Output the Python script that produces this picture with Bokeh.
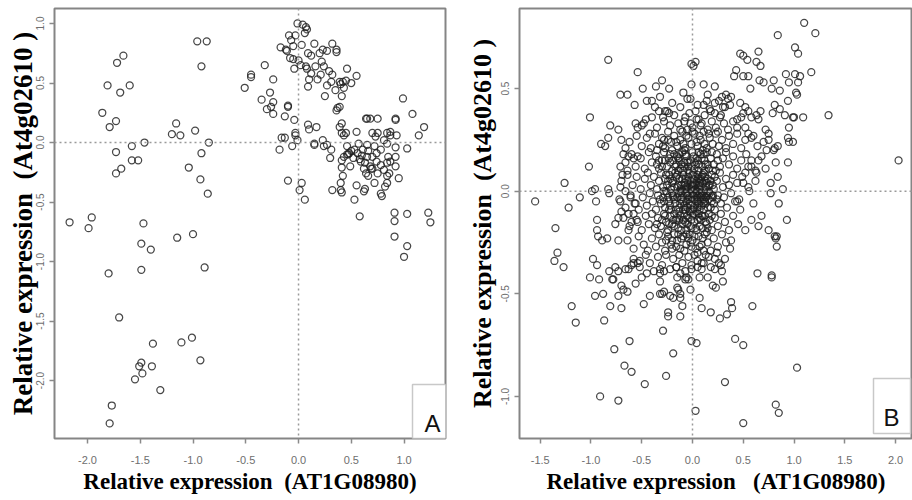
from math import pi
from bokeh.plotting import figure
from bokeh.models import Range1d, Span, FixedTicker, NumeralTickFormatter, Label, BoxAnnotation
from bokeh.layouts import row
from bokeh.embed import file_html
from bokeh.resources import INLINE

# ---------------- data ----------------
a_ticks_x = [-2.0, -1.5, -1.0, -0.5, 0.0, 0.5, 1.0]
a_ticks_y = [-2.0, -1.5, -1.0, -0.5, 0.0, 0.5, 1.0]
b_ticks_x = [-1.5, -1.0, -0.5, 0.0, 0.5, 1.0, 1.5, 2.0]
b_ticks_y = [-1.0, -0.5, 0.0, 0.5]

x_title = "Relative expression"
x_gene = "(AT1G08980)"
y_gene = "(At4g02610 )"
panel_tags = ["A", "B"]

# Panel A: sparse left group
a_left = [(-2.17,-0.67),(-1.99,-0.72),(-1.96,-0.63),(-1.86,0.25),(-1.81,0.48),(-1.79,0.13),(-1.73,0.18),
          (-1.72,0.67),(-1.69,0.42),(-1.66,0.73),(-1.60,0.48),(-1.73,-0.08),(-1.73,-0.26),(-1.68,-0.22),
          (-1.58,-0.03),(-1.58,-0.15),(-1.52,-0.15),(-1.46,0.00),(-1.47,-0.68),(-1.49,-0.85),(-1.40,-0.90),
          (-1.20,0.07),(-1.16,0.16),(-1.12,0.06),(-1.15,-0.80),(-1.04,-0.21),(-1.00,-0.77),(-0.98,0.10),
          (-0.96,0.85),(-0.87,0.85),(-0.92,0.64),(-0.92,-0.09),(-0.93,-0.31),(-0.86,-0.43),(-0.85,0.00),
          (-1.80,-1.10),(-1.49,-1.07),(-0.89,-1.05),(-1.70,-1.47),(-1.38,-1.69),(-1.11,-1.68),(-1.01,-1.64),
          (-0.93,-1.83),(-1.49,-1.85),(-1.51,-1.88),(-1.39,-1.88),(-1.48,-1.94),(-1.55,-1.99),(-1.31,-2.08),
          (-1.77,-2.21),(-1.79,-2.36)]
# Panel A: upper cluster
a_upper = [(-0.51,0.46),(-0.45,0.57),(-0.45,0.55),(-0.32,0.65),(-0.35,0.36),(-0.27,0.42),(-0.30,0.28),(-0.24,0.53),
           (-0.24,0.34),(-0.26,0.30),(-0.24,0.24),(-0.17,0.80),(-0.12,0.78),(-0.11,0.77),(-0.09,0.90),(-0.07,0.86),
           (-0.05,0.81),(-0.08,0.71),(-0.05,0.70),(-0.04,0.62),(-0.03,0.90),(-0.01,1.00),(0.00,0.69),(0.02,0.65),
           (0.03,0.82),(0.04,0.99),(0.06,0.92),(0.07,0.97),(0.08,0.95),(0.07,0.64),(0.08,0.62),(0.09,0.75),
           (0.12,0.73),(0.09,0.47),(0.10,0.53),(0.12,0.58),(0.15,0.83),(0.16,0.64),(0.18,0.53),(0.20,0.75),
           (0.21,0.57),(0.22,0.68),(0.23,0.78),(0.24,0.64),(0.25,0.39),(0.27,0.77),(0.27,0.48),(0.29,0.60),
           (0.32,0.83),(0.32,0.57),(0.31,0.51),(0.35,0.44),(0.36,0.78),(0.36,0.76),(0.36,0.27),(0.37,0.29),
           (0.39,0.51),(0.40,0.49),(0.42,0.51),(0.41,0.39),(0.43,0.46),(0.46,0.62),(0.45,0.52),(0.50,0.50),
           (0.55,0.56),(0.39,0.30)]
# Panel A: lower-right cluster
a_right = [(-0.18,-0.06),(-0.16,0.04),(-0.13,0.04),(-0.13,0.22),(-0.10,0.31),(-0.10,0.30),(-0.06,-0.03),(-0.04,0.19),
           (-0.03,0.08),(-0.03,0.06),(-0.01,0.02),(-0.10,-0.32),(0.01,-0.40),(0.03,-0.34),(0.06,-0.48),(0.09,0.15),
           (0.10,0.11),(0.17,0.13),(0.15,-0.01),(0.15,-0.02),(0.23,0.02),(0.24,-0.03),(0.27,-0.02),(0.31,-0.06),
           (0.30,-0.13),(0.32,-0.40),(0.39,0.13),(0.41,0.16),(0.41,0.08),(0.43,0.06),(0.45,0.08),(0.41,-0.15),
           (0.43,-0.12),(0.41,-0.21),(0.42,-0.28),(0.40,-0.34),(0.40,-0.40),(0.41,-0.42),(0.46,-0.03),(0.48,-0.09),
           (0.50,-0.07),(0.46,-0.10),(0.53,-0.48),(0.55,0.09),(0.57,-0.01),(0.58,-0.62),(0.58,-0.14),(0.59,-0.16),
           (0.61,-0.06),(0.62,-0.41),(0.63,-0.39),(0.64,0.20),(0.65,0.20),(0.68,0.20),(0.70,0.08),(0.65,-0.02),
           (0.66,-0.07),(0.68,-0.20),(0.70,-0.22),(0.69,-0.22),(0.72,-0.03),(0.73,0.05),(0.74,-0.09),(0.75,0.20),
           (0.75,0.08),(0.74,-0.16),(0.75,-0.26),(0.72,-0.34),(0.78,-0.06),(0.78,-0.19),(0.78,-0.43),(0.79,-0.45),
           (0.81,0.02),(0.82,-0.37),(0.84,-0.34),(0.84,0.08),(0.84,-0.01),(0.85,-0.12),(0.86,-0.26),(0.84,-0.28),
           (0.84,-0.17),(0.87,0.06),(0.87,-0.16),(0.87,0.09),(0.92,0.19),(0.92,0.20),(0.92,-0.04),(0.92,-0.12),
           (0.92,-0.20),(0.95,-0.30),(0.93,0.06),(0.99,0.37),(1.03,-0.05),(1.08,0.24),(1.14,0.06),(1.19,0.13),
           (0.91,-0.59),(0.91,-0.66),(1.03,-0.60),(1.23,-0.59),(1.25,-0.67),(0.91,-0.79),(1.03,-0.87),(1.00,-0.96),
           (0.53,-0.06),(0.65,-0.12),(0.63,-0.17),(0.70,-0.12),(0.64,-0.26),(0.81,-0.23),(0.47,-0.10),(0.52,-0.13),
           (0.56,-0.09),(0.60,-0.11),(0.62,-0.22),(0.66,-0.28),(0.55,-0.36),(0.49,-0.20)]

# Panel B: outer points (upper half)
b_upper = [(1.10,0.82),(1.21,0.77),(0.84,0.76),(1.01,0.70),(1.04,0.67),(0.65,0.68),(0.47,0.67),(0.50,0.66),
           (0.54,0.64),(0.63,0.63),(0.67,0.61),(1.17,0.58),(1.06,0.56),(1.04,0.53),(1.01,0.57),(0.92,0.57),
           (0.95,0.53),(0.43,0.59),(0.41,0.56),(0.50,0.56),(0.55,0.56),(0.57,0.50),(0.66,0.54),(0.70,0.53),
           (0.80,0.54),(0.78,0.50),(0.86,0.49),(1.34,0.37),(1.09,0.36),(1.02,0.48),(1.03,0.47),(0.94,0.44),
           (0.99,0.36),(1.00,0.36),(0.91,0.37),(0.81,0.42),(0.86,0.40),(0.79,0.38),(0.95,0.31),(0.94,0.26),
           (0.95,0.24),(0.99,0.24),(0.94,0.14),(0.84,0.22),(0.81,0.21),(0.80,0.20),(0.82,0.14),(0.84,0.07),
           (0.77,0.04),(0.89,0.01),(0.77,-0.01),(0.85,-0.06),(0.93,-0.14),(0.82,-0.23),(0.81,-0.22),(0.75,-0.19),
           (0.68,-0.12),(0.65,-0.17),(0.58,-0.14),(0.52,-0.19),(0.60,-0.06),(0.56,0.00),(0.44,-0.05),(0.46,-0.04),
           (0.50,0.04),(0.52,0.09),(0.55,0.12),(0.63,0.09),(0.62,0.10),(0.58,0.15),(0.68,0.17),(0.73,0.20),
           (0.75,0.25),(0.75,0.28),(0.72,0.30),(0.65,0.35),(0.63,0.37),(0.67,0.39),(0.58,0.36),(0.55,0.39),
           (0.52,0.41),(0.50,0.38),(0.47,0.43),(0.44,0.35),(0.52,0.31),(0.55,0.28),(0.58,0.26),(2.03,0.15),
           (0.03,0.63),(0.01,0.61),(-0.01,0.62),(-0.01,0.52),(0.11,0.52),(0.15,0.47),(0.22,0.51),(-0.09,0.48),
           (-0.05,0.45),(0.26,0.44),(0.29,0.46),(0.33,0.47),(0.35,0.45),(0.37,0.42),(0.32,0.41),(0.11,0.42),
           (0.17,0.40),(0.22,0.38),(0.28,0.37),(0.03,0.39),(0.06,0.35),(-0.07,0.36),(-0.14,0.33),(-0.30,0.54),
           (-0.23,0.50),(-0.36,0.51),(-0.45,0.44),(-0.54,0.58),(-0.49,0.50),(-0.71,0.47),(-0.64,0.47),(-0.57,0.42),
           (-0.37,0.41),(-0.33,0.39),(-0.27,0.39),(-0.23,0.38),(-0.29,0.36),(-0.83,0.64),(-1.01,0.36),(-0.90,0.23),
           (-0.86,0.22),(-0.83,0.26),(-0.81,0.32),(-1.02,0.12),(-1.26,0.04),(-1.55,-0.05),(-1.22,-0.08),(-1.11,-0.03),
           (-0.99,0.00),(-0.96,0.01),(-0.95,-0.05),(-0.83,0.01),(-0.82,-0.01),(-1.35,-0.18),(-0.94,-0.14),(-0.73,0.30),
           (-0.70,0.25),(-0.66,0.21),(-0.68,0.18),(-0.63,0.17),(-0.56,0.33),(-0.54,0.31),(-0.50,0.32),(-0.46,0.35),
           (-0.42,0.28),(-0.71,0.12),(-0.69,0.08),(-0.64,0.10),(-0.58,0.16),(-0.54,0.17),(-0.71,0.02),(-0.66,0.00),
           (-0.61,-0.03),(-0.56,-0.06),(-0.71,-0.05),(-0.70,-0.10),(-0.63,-0.11),(-0.73,-0.13),(-0.60,-0.15),(-0.55,-0.14),
           (-0.94,-0.19),(-0.93,-0.22),(-0.89,-0.24),(-0.84,-0.23),(-0.76,-0.16),(-0.73,-0.24),(-0.63,-0.19)]
# Panel B: outer points (lower half)
b_lower = [(-1.36,-0.34),(-1.33,-0.30),(-1.27,-0.37),(-1.19,-0.56),(-1.15,-0.64),(-1.01,-0.42),(-0.98,-0.33),(-0.94,-0.36),
           (-0.92,-0.43),(-0.96,-0.51),(-0.88,-0.50),(-0.87,-0.63),(-0.82,-0.39),(-0.79,-0.43),(-0.78,-0.43),(-0.81,-0.56),
           (-0.76,-0.37),(-0.73,-0.39),(-0.73,-0.51),(-0.70,-0.46),(-0.68,-0.48),(-0.64,-0.49),(-0.70,-0.57),(-0.66,-0.38),
           (-0.63,-0.38),(-0.60,-0.36),(-0.58,-0.35),(-0.54,-0.35),(-0.52,-0.34),(-0.56,-0.45),(-0.45,-0.40),(-0.50,-0.42),
           (-0.48,-0.55),(-0.42,-0.51),(-0.32,-0.44),(-0.32,-0.40),(-0.32,-0.38),(-0.32,-0.50),(-0.30,-0.50),(-0.28,-0.49),
           (-0.24,-0.59),(-0.24,-0.61),(-0.22,-0.51),(-0.19,-0.52),(-0.15,-0.47),(-0.14,-0.48),(-0.12,-0.50),(-0.12,-0.52),
           (-0.10,-0.56),(-0.12,-0.61),(-0.16,-0.37),(-0.15,-0.42),(-0.07,-0.43),(-0.06,-0.42),(-0.04,-0.43),(-0.02,-0.48),
           (-0.01,-0.38),(-0.29,-0.68),(-0.19,-0.79),(-0.62,-0.73),(-0.77,-0.77),(-0.67,-0.85),(-0.60,-0.88),(-0.47,-0.94),
           (-0.26,-0.90),(-0.91,-1.00),(-0.73,-1.02),(-0.01,-0.73),(0.04,-0.74),(0.07,-0.52),(0.09,-0.57),(0.18,-0.59),
           (0.27,-0.62),(0.34,-0.60),(0.38,-0.54),(0.39,-0.57),(0.59,-0.56),(0.64,-0.40),(0.78,-0.41),(0.78,-0.42),
           (0.42,-0.72),(0.50,-0.75),(1.03,-0.86),(0.32,-0.93),(0.03,-1.07),(0.82,-1.04),(0.85,-1.08),(0.50,-1.13),
           (0.07,-0.42),(0.15,-0.42),(0.20,-0.46),(0.23,-0.47),(0.30,-0.44),(0.22,-0.38),(0.28,-0.36),(0.29,-0.39),
           (0.16,-0.32),(0.22,-0.33),(0.26,-0.35),(0.32,-0.33),(0.11,-0.35),(0.05,-0.37),(0.09,-0.35),(0.38,-0.24),
           (0.83,-0.22),(0.83,-0.27)]
# Panel B: dense core, read band by band
b_core = [
    (-0.40,0.44),(-0.32,0.46),(-0.20,0.43),(-0.12,0.41),(-0.02,0.45),(0.05,0.42),(0.14,0.44),(0.30,0.41),(0.38,0.46),(0.22,0.43),
    (-0.48,0.33),(-0.40,0.36),(-0.35,0.31),(-0.28,0.34),(-0.22,0.32),(-0.18,0.37),(-0.12,0.30),(-0.08,0.34),(-0.03,0.38),(0.00,0.31),
    (0.04,0.35),(0.08,0.32),(0.12,0.37),(0.15,0.30),(0.19,0.34),(0.23,0.31),(0.27,0.36),(0.31,0.33),(0.35,0.30),(0.40,0.34),
    (0.44,0.31),(0.48,0.36),(-0.25,0.39),(0.18,0.39),(-0.05,0.30),
    (-0.62,0.24),(-0.55,0.27),(-0.50,0.22),(-0.45,0.26),(-0.41,0.21),(-0.37,0.28),(-0.33,0.23),(-0.30,0.26),(-0.27,0.21),(-0.24,0.29),
    (-0.21,0.24),(-0.18,0.27),(-0.15,0.22),(-0.12,0.25),(-0.10,0.29),(-0.07,0.21),(-0.04,0.26),(-0.01,0.23),(0.02,0.28),(0.05,0.22),
    (0.08,0.25),(0.11,0.29),(0.14,0.21),(0.17,0.26),(0.20,0.23),(0.23,0.28),(0.26,0.22),(0.29,0.25),(0.33,0.21),(0.36,0.27),
    (0.40,0.23),(0.44,0.28),(0.48,0.21),(0.52,0.25),(0.60,0.27),(0.64,0.22),(0.70,0.24),(-0.20,0.20),(0.00,0.29),(0.10,0.20),
    (-0.35,0.20),(0.25,0.29),(-0.09,0.23),(0.07,0.27),(-0.28,0.25),
    (-0.66,0.14),(-0.60,0.18),(-0.56,0.12),(-0.51,0.16),(-0.47,0.11),(-0.43,0.19),(-0.40,0.14),(-0.36,0.17),(-0.33,0.11),(-0.30,0.15),
    (-0.28,0.19),(-0.25,0.12),(-0.23,0.16),(-0.20,0.10),(-0.18,0.18),(-0.16,0.13),(-0.14,0.16),(-0.12,0.11),(-0.10,0.19),(-0.08,0.14),
    (-0.06,0.17),(-0.04,0.12),(-0.02,0.15),(0.00,0.19),(0.02,0.11),(0.04,0.16),(0.06,0.13),(0.08,0.18),(0.10,0.12),(0.12,0.15),
    (0.14,0.19),(0.16,0.11),(0.18,0.16),(0.21,0.13),(0.24,0.18),(0.27,0.12),(0.30,0.16),(0.33,0.19),(0.36,0.13),(0.40,0.17),
    (0.44,0.11),(0.48,0.15),(0.53,0.18),(0.58,0.12),(0.65,0.15),(0.72,0.11),(-0.22,0.14),(-0.15,0.17),(-0.05,0.14),(0.05,0.15),
    (-0.11,0.13),(0.01,0.17),(0.09,0.16),(-0.19,0.15),(-0.27,0.15),(0.13,0.13),(-0.09,0.10),(0.20,0.10),(0.25,0.15),(-0.35,0.13),
    (-0.01,0.12),(-0.07,0.18),(0.11,0.18),(0.03,0.13),(-0.13,0.18),
    (-0.70,0.05),(-0.64,0.08),(-0.59,0.03),(-0.55,0.07),(-0.51,0.01),(-0.47,0.06),(-0.44,0.09),(-0.41,0.03),(-0.38,0.07),(-0.35,0.01),
    (-0.33,0.05),(-0.31,0.09),(-0.29,0.02),(-0.27,0.06),(-0.25,0.03),(-0.23,0.08),(-0.21,0.01),(-0.19,0.05),(-0.17,0.09),(-0.15,0.02),
    (-0.13,0.06),(-0.11,0.03),(-0.09,0.08),(-0.07,0.01),(-0.05,0.05),(-0.03,0.09),(-0.01,0.02),(0.01,0.06),(0.03,0.03),(0.05,0.08),
    (0.07,0.01),(0.09,0.05),(0.11,0.09),(0.13,0.02),(0.15,0.06),(0.17,0.03),(0.19,0.08),(0.21,0.01),(0.24,0.05),(0.27,0.09),
    (0.30,0.02),(0.33,0.06),(0.36,0.03),(0.40,0.08),(0.44,0.04),(0.49,0.07),(0.55,0.02),(0.62,0.05),
    (-0.20,0.04),(-0.16,0.07),(-0.12,0.00),(-0.08,0.04),(-0.04,0.07),(0.00,0.00),(0.02,0.04),(0.04,0.00),(0.06,0.06),(0.08,0.02),
    (0.10,0.04),(0.12,0.07),(-0.02,0.05),(-0.06,0.02),(-0.10,0.06),(-0.14,0.03),(-0.18,0.02),(-0.22,0.06),(-0.26,0.00),(0.14,0.04),
    (0.16,0.00),(0.18,0.05),(0.20,0.03),(0.22,0.07),(0.00,0.08),(0.03,0.01),(0.06,0.03),(-0.01,0.01),(0.01,0.02),(0.05,0.00),
    (0.07,0.04),(-0.03,0.03),(-0.07,0.06),(-0.11,0.01),(0.09,0.07),(0.11,0.00),(0.13,0.05),
    (-0.72,-0.04),(-0.66,-0.08),(-0.61,-0.02),(-0.57,-0.06),(-0.53,-0.09),(-0.49,-0.03),(-0.45,-0.07),(-0.42,-0.01),(-0.39,-0.05),(-0.36,-0.09),
    (-0.34,-0.02),(-0.31,-0.06),(-0.29,-0.03),(-0.27,-0.08),(-0.25,-0.01),(-0.23,-0.05),(-0.21,-0.09),(-0.19,-0.02),(-0.17,-0.06),(-0.15,-0.03),
    (-0.13,-0.08),(-0.11,-0.01),(-0.09,-0.05),(-0.07,-0.09),(-0.05,-0.02),(-0.03,-0.06),(-0.01,-0.03),(0.01,-0.08),(0.03,-0.01),(0.05,-0.05),
    (0.07,-0.09),(0.09,-0.02),(0.11,-0.06),(0.13,-0.03),(0.15,-0.08),(0.17,-0.01),(0.19,-0.05),(0.22,-0.09),(0.25,-0.02),(0.28,-0.06),
    (0.31,-0.03),(0.34,-0.08),(0.38,-0.01),(0.42,-0.05),(0.47,-0.09),
    (0.00,-0.01),(0.02,-0.04),(0.04,-0.02),(0.06,-0.06),(0.08,-0.03),(0.10,-0.01),(0.12,-0.05),(0.14,-0.02),(0.16,-0.04),(0.18,-0.08),
    (0.20,-0.03),(-0.02,-0.07),(-0.04,-0.04),(-0.06,-0.01),(-0.08,-0.07),(-0.10,-0.03),(-0.12,-0.06),(-0.14,-0.01),(-0.16,-0.09),(-0.18,-0.04),
    (-0.20,-0.01),(-0.22,-0.07),(-0.24,-0.03),(0.01,-0.02),(0.03,-0.06),(0.05,-0.03),(0.07,-0.01),(0.09,-0.07),(0.11,-0.04),(0.13,-0.06),
    (0.15,-0.01),(-0.01,-0.05),(-0.03,-0.01),(-0.05,-0.08),(0.00,-0.09),(0.21,-0.06),(0.24,-0.04),(-0.28,-0.05),(-0.32,-0.04),(0.02,-0.08),
    (-0.68,-0.13),(-0.62,-0.17),(-0.58,-0.11),(-0.54,-0.15),(-0.50,-0.19),(-0.46,-0.12),(-0.43,-0.16),(-0.40,-0.11),(-0.37,-0.18),(-0.34,-0.13),
    (-0.31,-0.17),(-0.28,-0.11),(-0.26,-0.15),(-0.24,-0.19),(-0.22,-0.12),(-0.20,-0.16),(-0.18,-0.11),(-0.16,-0.14),(-0.14,-0.18),(-0.12,-0.12),
    (-0.10,-0.16),(-0.08,-0.11),(-0.06,-0.19),(-0.04,-0.13),(-0.02,-0.17),(0.00,-0.12),(0.02,-0.15),(0.04,-0.19),(0.06,-0.11),(0.08,-0.14),
    (0.10,-0.18),(0.12,-0.12),(0.14,-0.16),(0.16,-0.11),(0.19,-0.19),(0.22,-0.13),(0.25,-0.17),(0.28,-0.11),(0.32,-0.15),(0.36,-0.19),
    (0.40,-0.12),(0.45,-0.16),(-0.15,-0.13),(-0.09,-0.14),(-0.03,-0.10),(0.01,-0.11),(0.05,-0.14),(0.09,-0.12),(-0.11,-0.19),(-0.19,-0.14),
    (-0.23,-0.16),(-0.30,-0.14),(0.13,-0.15),(0.17,-0.14),(-0.05,-0.16),(-0.01,-0.14),(0.03,-0.18),(-0.07,-0.15),(-0.13,-0.10),(0.07,-0.17),
    (-0.35,-0.16),
    (-0.64,-0.24),(-0.58,-0.28),(-0.53,-0.22),(-0.48,-0.26),(-0.44,-0.29),(-0.40,-0.23),(-0.36,-0.27),(-0.33,-0.21),(-0.30,-0.25),(-0.27,-0.29),
    (-0.24,-0.22),(-0.21,-0.26),(-0.18,-0.21),(-0.15,-0.24),(-0.12,-0.28),(-0.09,-0.22),(-0.06,-0.26),(-0.03,-0.21),(0.00,-0.24),(0.03,-0.28),
    (0.06,-0.22),(0.09,-0.26),(0.12,-0.21),(0.15,-0.25),(0.18,-0.29),(0.21,-0.23),(0.25,-0.27),(0.29,-0.21),(0.33,-0.25),(0.37,-0.28),
    (-0.20,-0.28),(-0.08,-0.29),(0.05,-0.30),(-0.14,-0.21),(0.11,-0.29),(-0.01,-0.27),(-0.26,-0.24),(-0.04,-0.23),
    (-0.58,-0.33),(-0.52,-0.37),(-0.46,-0.31),(-0.42,-0.35),(-0.38,-0.39),(-0.34,-0.32),(-0.30,-0.36),(-0.26,-0.31),(-0.22,-0.38),(-0.19,-0.33),
    (-0.16,-0.37),(-0.13,-0.31),(-0.10,-0.35),(-0.07,-0.39),(-0.04,-0.32),(-0.01,-0.36),(0.02,-0.31),(0.05,-0.34),(0.09,-0.38),(0.13,-0.31),
    (0.18,-0.37),(0.24,-0.30),(-0.28,-0.39),(-0.12,-0.40),
]
# Panel B: darkest centre of the core
b_centre = [
    (-0.30,0.12),(-0.26,0.08),(-0.22,0.18),(-0.17,0.12),(-0.13,0.15),(-0.08,0.20),(-0.04,0.10),(0.02,0.14),(0.06,0.19),(0.10,0.08),
    (0.15,0.13),(0.19,0.19),(0.23,0.10),(-0.28,0.00),(-0.24,0.05),(-0.19,-0.03),(-0.15,0.08),(-0.11,-0.04),(-0.07,0.03),(-0.03,-0.03),
    (0.01,0.04),(0.04,-0.04),(0.08,0.06),(0.12,-0.02),(0.16,0.03),(0.20,-0.02),(-0.27,-0.12),(-0.23,-0.09),(-0.18,-0.17),(-0.13,-0.14),
    (-0.09,-0.09),(-0.05,-0.12),(-0.01,-0.18),(0.03,-0.10),(0.07,-0.13),(0.11,-0.09),(0.15,-0.18),(0.19,-0.12),(-0.25,-0.20),(-0.20,-0.24),
    (-0.16,-0.27),(-0.11,-0.23),(-0.06,-0.21),(-0.02,-0.25),(0.02,-0.22),(0.07,-0.27),(0.10,-0.23),(0.14,-0.20),(-0.33,0.15),(-0.29,0.22),
    (-0.24,0.25),(-0.16,0.24),(-0.06,0.27),(0.04,0.24),(0.12,0.23),(0.16,0.28),(-0.02,0.33),(0.09,0.33),(0.06,0.10),(0.01,0.09),
    (-0.03,0.14),(-0.08,0.12),(-0.14,0.10),(0.04,0.05),(-0.02,-0.10),(0.05,-0.08),(0.10,-0.12),(-0.06,-0.05),(0.03,0.07),(-0.10,0.00),
    (0.00,0.03),(0.08,-0.05),(-0.04,0.01),(0.12,0.10),
]

a_pts = a_left + a_upper + a_right
b_pts = b_upper + b_lower + b_core + b_centre


def panel(pts, xr, yr, xt, yt, width, bl, br, tag, tag_box, tag_pos,
          ytitle_size, ytitle_standoff, gap):
    p = figure(width=width, height=500, output_backend="svg", toolbar_location=None,
               x_range=Range1d(*xr), y_range=Range1d(*yr),
               min_border_left=bl, min_border_right=br, min_border_top=8, min_border_bottom=62)
    p.background_fill_color = "white"
    p.border_fill_color = "white"
    p.outline_line_color = "#858585"
    p.outline_line_width = 2
    p.grid.visible = False
    for ax, ticks in ((p.xaxis[0], xt), (p.yaxis[0], yt)):
        ax.ticker = FixedTicker(ticks=ticks)
        ax.formatter = NumeralTickFormatter(format="0.0")
        ax.axis_line_color = None
        ax.major_tick_line_color = "#8a8a8a"
        ax.major_tick_line_width = 1.5
        ax.major_tick_out = 5
        ax.major_tick_in = 0
        ax.minor_tick_line_color = None
        ax.major_label_text_color = "#6e6e6e"
        ax.major_label_text_font = "Liberation Sans"
        ax.axis_label_text_font = "Liberation Serif"
        ax.axis_label_text_font_style = "bold"
        ax.axis_label_text_color = "black"
    sp = "\u00a0"
    p.xaxis.major_label_text_font_size = "11px"
    p.xaxis.major_label_standoff = 12
    p.xaxis.axis_label = x_title + sp * gap + x_gene
    p.xaxis.axis_label_text_font_size = "23px"
    p.xaxis.axis_label_standoff = 2
    p.yaxis.major_label_text_font_size = "10px"
    p.yaxis.major_label_orientation = "vertical"
    p.yaxis.major_label_standoff = 5
    p.yaxis.axis_label = x_title + sp * 2 + y_gene
    p.yaxis.axis_label_text_font_size = ytitle_size
    p.yaxis.axis_label_standoff = ytitle_standoff

    p.add_layout(Span(location=0, dimension="height", line_color="#9a9a9a",
                      line_dash="2 3", line_width=1.5))
    p.add_layout(Span(location=0, dimension="width", line_color="#9a9a9a",
                      line_dash="2 3", line_width=1.5))

    xs = [q[0] for q in pts]
    ys = [q[1] for q in pts]
    p.scatter(xs, ys, marker="circle", size=7, fill_color=None,
              line_color="#1e1e1e", line_alpha=0.82, line_width=1.25)

    l, r, b, t = tag_box
    p.add_layout(BoxAnnotation(left=l, right=r, bottom=b, top=t,
                               left_units="screen", right_units="screen",
                               bottom_units="screen", top_units="screen",
                               fill_color="white", fill_alpha=1.0,
                               line_color="#c8c8c8", line_width=1.5, line_alpha=1.0))
    p.add_layout(Label(x=tag_pos[0], y=tag_pos[1], x_units="screen", y_units="screen",
                       text=tag, text_align="center", text_baseline="alphabetic",
                       text_font="Liberation Sans", text_font_size="24px", text_color="#111111"))
    return p


pa = panel(a_pts, (-2.313, 1.393), (-2.487, 1.126), a_ticks_x, a_ticks_y,
           460, 54, 15, panel_tags[0], (358, 394, 0, 54), (378, 15), "27px", -4, 2)
pb = panel(b_pts, (-1.704, 2.167), (-1.205, 0.890), b_ticks_x, b_ticks_y,
           452, 59, 0, panel_tags[1], (354, 391, 5, 60), (372, 21), "26px", 2, 3)

layout = row(pa, pb)
open("out.html", "w").write(file_html(layout, INLINE))
